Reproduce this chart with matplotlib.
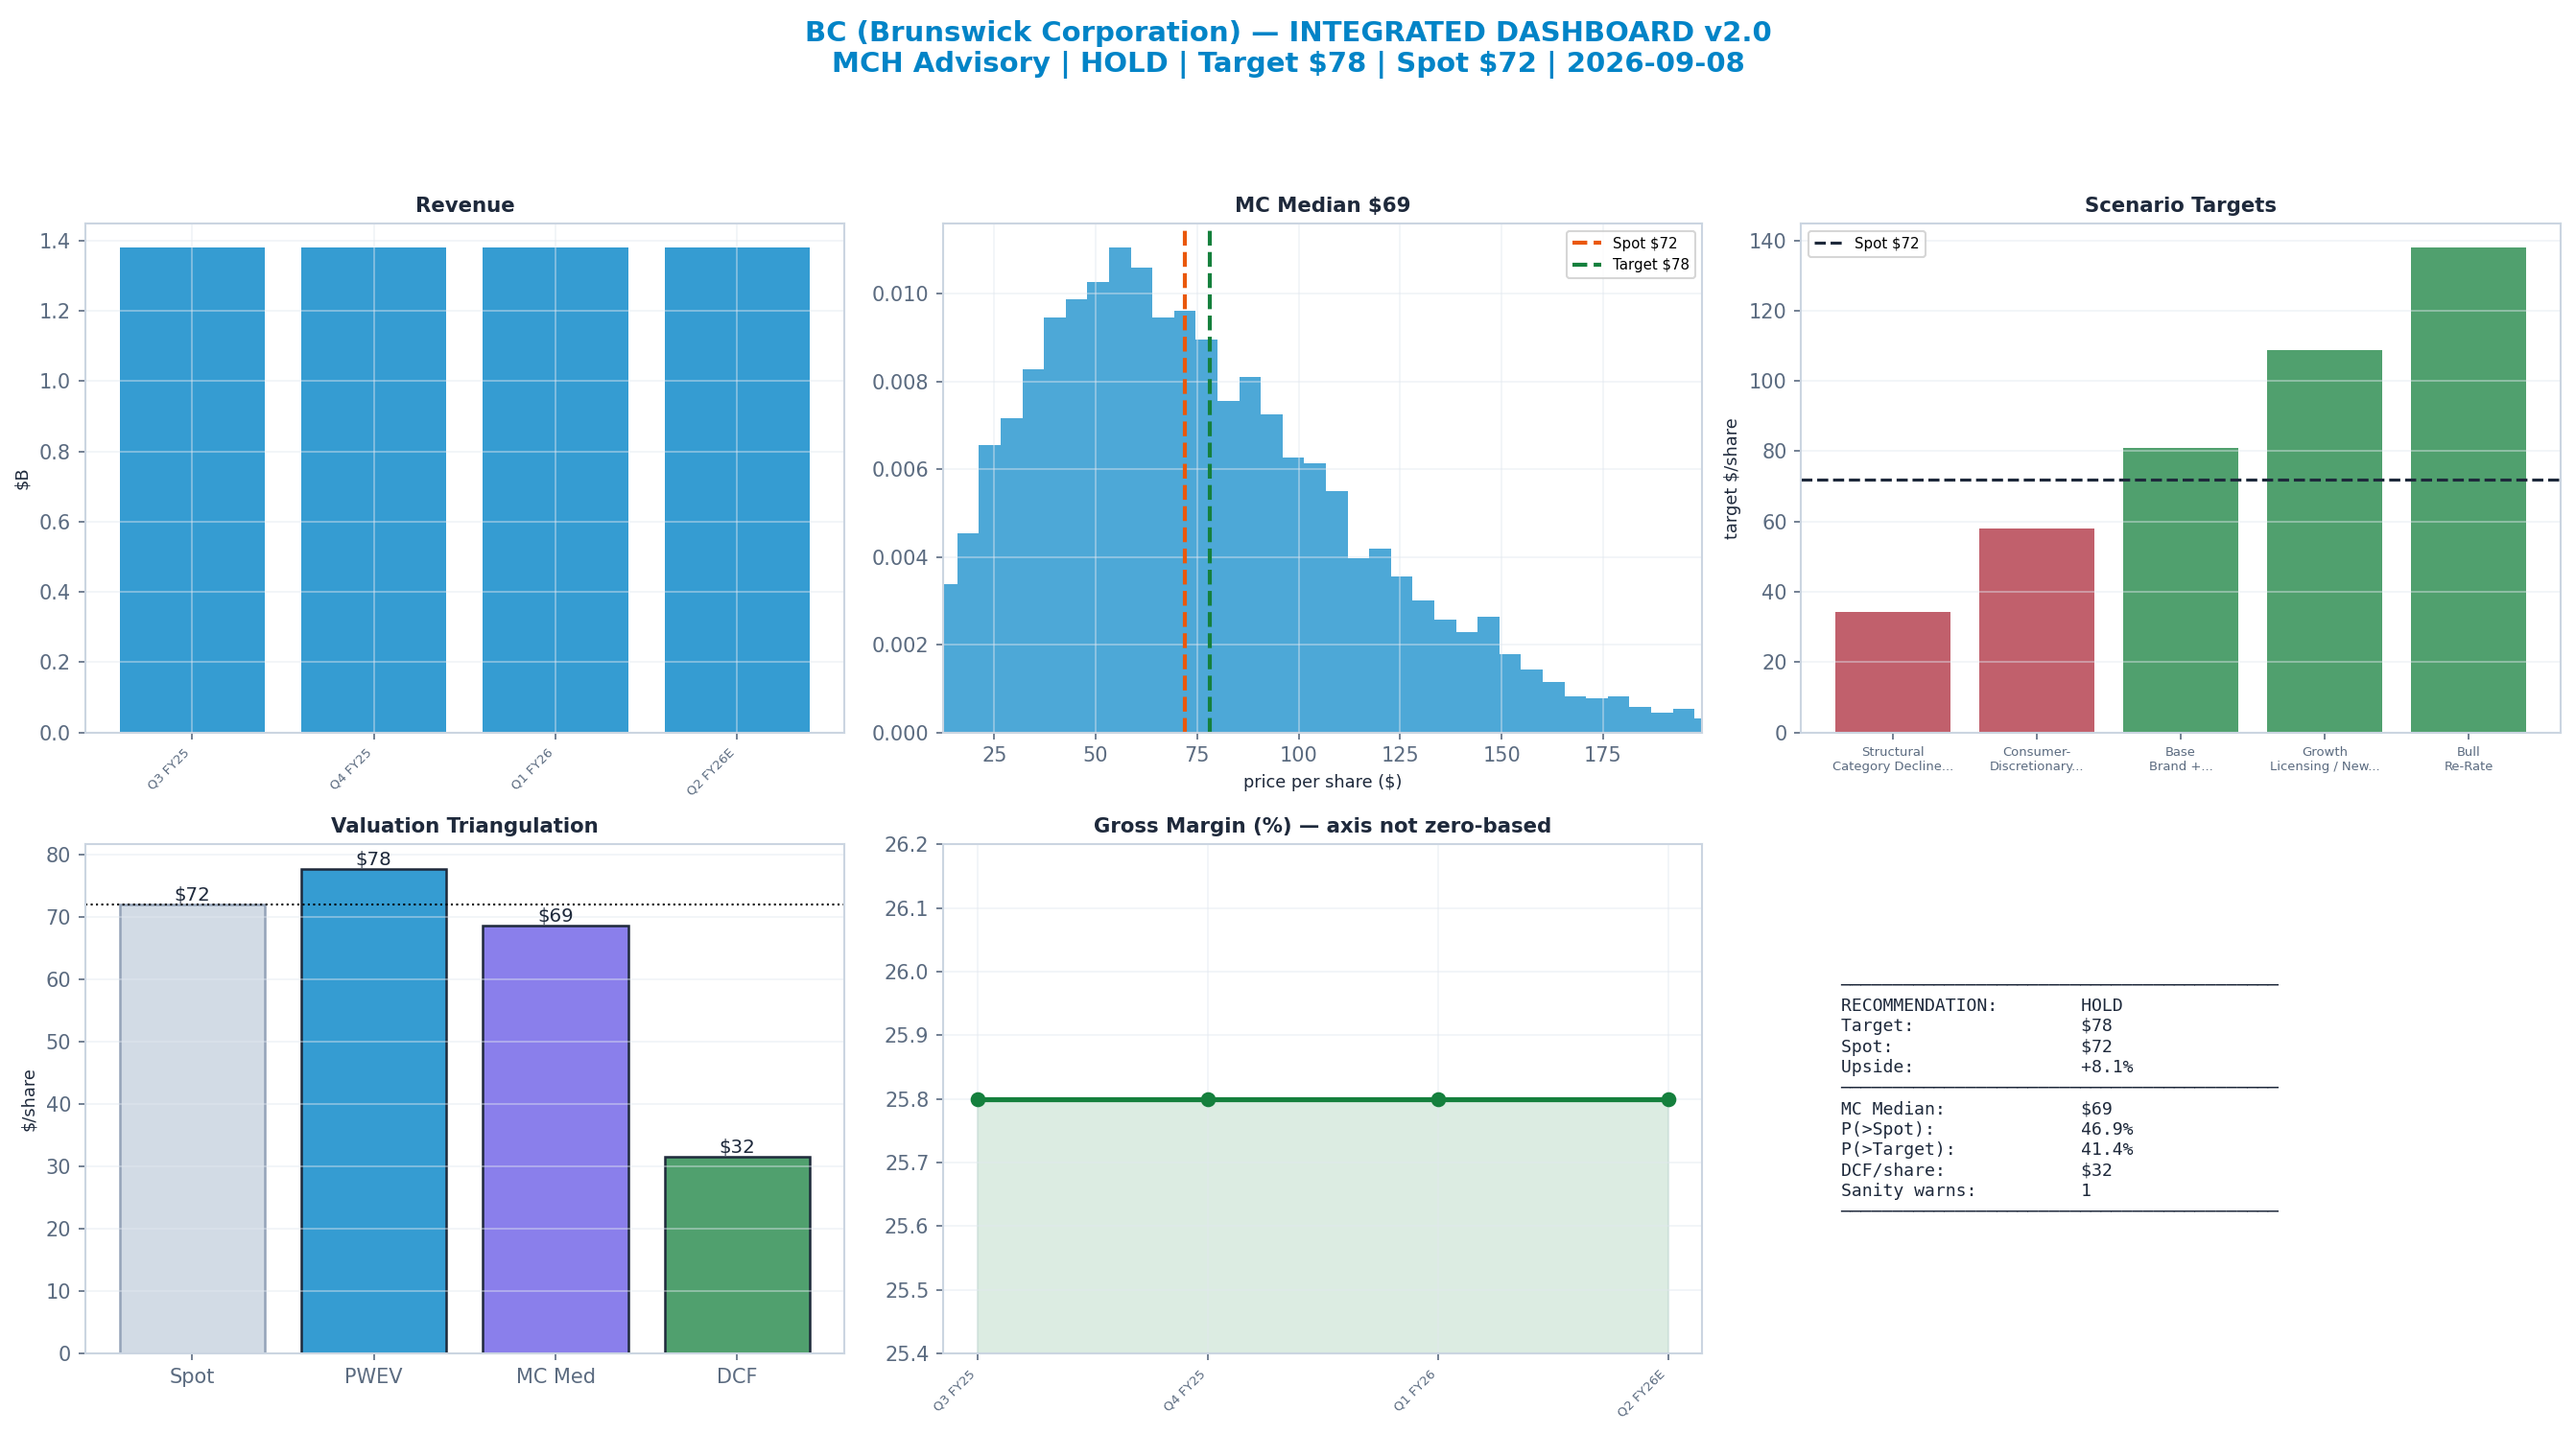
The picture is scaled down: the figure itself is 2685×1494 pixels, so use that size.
import matplotlib
matplotlib.use("Agg")
import matplotlib.pyplot as plt
from matplotlib.colors import to_rgba
import numpy as np

# --- data ---
quarters = ["Q3 FY25", "Q4 FY25", "Q1 FY26", "Q2 FY26E"]
revenue_b = [1.38, 1.38, 1.38, 1.38]
gross_margin = [25.8, 25.8, 25.8, 25.8]

spot = 72
target = 78
mc_median = 69

# Monte Carlo histogram (density per bin)
hist_bin_start = 10.57
hist_bin_width = 5.342
hist_density = [0.00339, 0.00453, 0.00656, 0.00717, 0.00827, 0.00945, 0.00987,
                0.01027, 0.01105, 0.01059, 0.00945, 0.00962, 0.00896, 0.00756,
                0.00811, 0.00726, 0.00626, 0.00613, 0.00551, 0.00398, 0.00420,
                0.00356, 0.00302, 0.00258, 0.00228, 0.00263, 0.00179, 0.00144,
                0.00115, 0.00083, 0.00079, 0.00083, 0.00059, 0.00046, 0.00053,
                0.00031]
hist_xlim = (12.4, 199.5)

scenario_labels = ["Structural\nCategory Decline...", "Consumer-\nDiscretionary...",
                   "Base\nBrand +...", "Growth\nLicensing / New...", "Bull\nRe-Rate"]
scenario_targets = [34.3, 58.0, 80.9, 108.9, 137.9]

val_labels = ["Spot", "PWEV", "MC Med", "DCF"]
val_values = [72.0, 77.8, 68.6, 31.6]

summary_rows = [
    ("RECOMMENDATION:", "HOLD"),
    ("Target:", "$78"),
    ("Spot:", "$72"),
    ("Upside:", "+8.1%"),
    None,
    ("MC Median:", "$69"),
    ("P(>Spot):", "46.9%"),
    ("P(>Target):", "41.4%"),
    ("DCF/share:", "$32"),
    ("Sanity warns:", "1"),
]

# --- style ---
BLUE = "#0284c7"
GREEN = "#15803d"
ORANGE = "#ea580c"
DARK = "#1e293b"
SLATE = "#5b6b80"

plt.rcParams.update({
    "font.family": "DejaVu Sans",
    "text.parse_math": False,
    "axes.edgecolor": "#cbd5e1",
    "axes.linewidth": 1.0,
    "axes.labelcolor": DARK,
    "xtick.color": SLATE,
    "ytick.color": SLATE,
    "xtick.labelsize": 10,
    "ytick.labelsize": 10,
    "axes.titlesize": 10.2,
    "axes.titleweight": "bold",
    "axes.titlecolor": DARK,
    "grid.color": "#e2e8f0",
    "grid.alpha": 0.5,
    "grid.linewidth": 0.8,
})


def main():
    fig, axes = plt.subplots(2, 3, figsize=(17.9, 9.96), dpi=150)
    fig.subplots_adjust(left=0.033, right=0.994, top=0.844, bottom=0.0556,
                        wspace=0.13, hspace=0.22)
    fig.suptitle("BC (Brunswick Corporation) \u2014 INTEGRATED DASHBOARD v2.0\n"
                 "MCH Advisory | HOLD | Target $78 | Spot $72 | 2026-09-08",
                 fontsize=14, fontweight="bold", color=BLUE, y=0.986, va="top")

    # Revenue
    ax = axes[0, 0]
    x = np.arange(len(quarters))
    ax.bar(x, revenue_b, color=BLUE, alpha=0.8, width=0.8)
    ax.set_xticks(x)
    ax.set_xticklabels(quarters, rotation=45, ha="right", fontsize=6.3)
    ax.set_ylabel("$B", fontsize=8.5)
    ax.set_title("Revenue")
    ax.grid(True)

    # MC histogram
    ax = axes[0, 1]
    edges = hist_bin_start + hist_bin_width * np.arange(len(hist_density) + 1)
    centers = (edges[:-1] + edges[1:]) / 2
    ax.hist(centers, bins=edges, weights=hist_density, color=BLUE, alpha=0.7)
    ax.axvline(spot, color=ORANGE, ls="--", lw=2, label=f"Spot ${spot}")
    ax.axvline(target, color=GREEN, ls="--", lw=2, label=f"Target ${target}")
    ax.set_xlim(*hist_xlim)
    ax.set_xlabel("price per share ($)", fontsize=8.5)
    ax.set_title(f"MC Median ${mc_median}")
    ax.legend(fontsize=7.2, loc="upper right")
    ax.grid(True)

    # Scenario targets
    ax = axes[0, 2]
    xs = np.arange(len(scenario_labels))
    cols = [to_rgba("#ac2b3b", 0.75) if v < spot else to_rgba(GREEN, 0.75)
            for v in scenario_targets]
    ax.bar(xs, scenario_targets, color=cols, width=0.8)
    ax.axhline(spot, color=DARK, ls="--", lw=1.5, label=f"Spot ${spot}")
    ax.set_xticks(xs)
    ax.set_xticklabels(scenario_labels, fontsize=6.3)
    ax.set_ylabel("target $/share", fontsize=8.5)
    ax.set_title("Scenario Targets")
    ax.legend(fontsize=7.2, loc="upper left")
    ax.grid(True, axis="y")

    # Valuation triangulation
    ax = axes[1, 0]
    xv = np.arange(len(val_labels))
    faces = [to_rgba("#cbd5e1", 0.85), to_rgba(BLUE, 0.8),
             to_rgba("#6d5fe6", 0.8), to_rgba(GREEN, 0.75)]
    edgecols = ["#94a3b8", DARK, DARK, DARK]
    bars = ax.bar(xv, val_values, color=faces, edgecolor=edgecols, linewidth=1.2,
                  width=0.8)
    for b, v in zip(bars, val_values):
        ax.text(b.get_x() + b.get_width() / 2, v, f"${v:.0f}", ha="center",
                va="bottom", fontsize=9.5, color=DARK)
    ax.axhline(spot, color="black", ls=":", lw=1)
    ax.set_xticks(xv)
    ax.set_xticklabels(val_labels)
    ax.set_ylabel("$/share", fontsize=8.5)
    ax.set_title("Valuation Triangulation")
    ax.grid(True, axis="y")

    # Gross margin
    ax = axes[1, 1]
    ax.plot(x, gross_margin, color=GREEN, lw=2.5, marker="o", ms=6.5)
    lo, hi = min(gross_margin) - 0.4, max(gross_margin) + 0.4
    ax.fill_between(x, gross_margin, lo, color=GREEN, alpha=0.15)
    ax.set_ylim(lo, hi)
    ax.set_xticks(x)
    ax.set_xticklabels(quarters, rotation=45, ha="right", fontsize=6.3)
    ax.set_title("Gross Margin (%) \u2014 axis not zero-based")
    ax.grid(True)

    # Summary text
    ax = axes[1, 2]
    ax.axis("off")
    rule = "\u2500" * 42
    lines = [rule]
    for row in summary_rows:
        if row is None:
            lines.append(rule)
        else:
            lines.append(f"{row[0]:<23}{row[1]}")
    lines.append(rule)
    ax.text(0.052, 0.5, "\n".join(lines), transform=ax.transAxes,
            family="DejaVu Sans Mono", fontsize=8.7, color=DARK,
            ha="left", va="center", linespacing=1.25)

    fig.savefig("out.png", dpi=150, facecolor="white")


if __name__ == "__main__":
    main()
